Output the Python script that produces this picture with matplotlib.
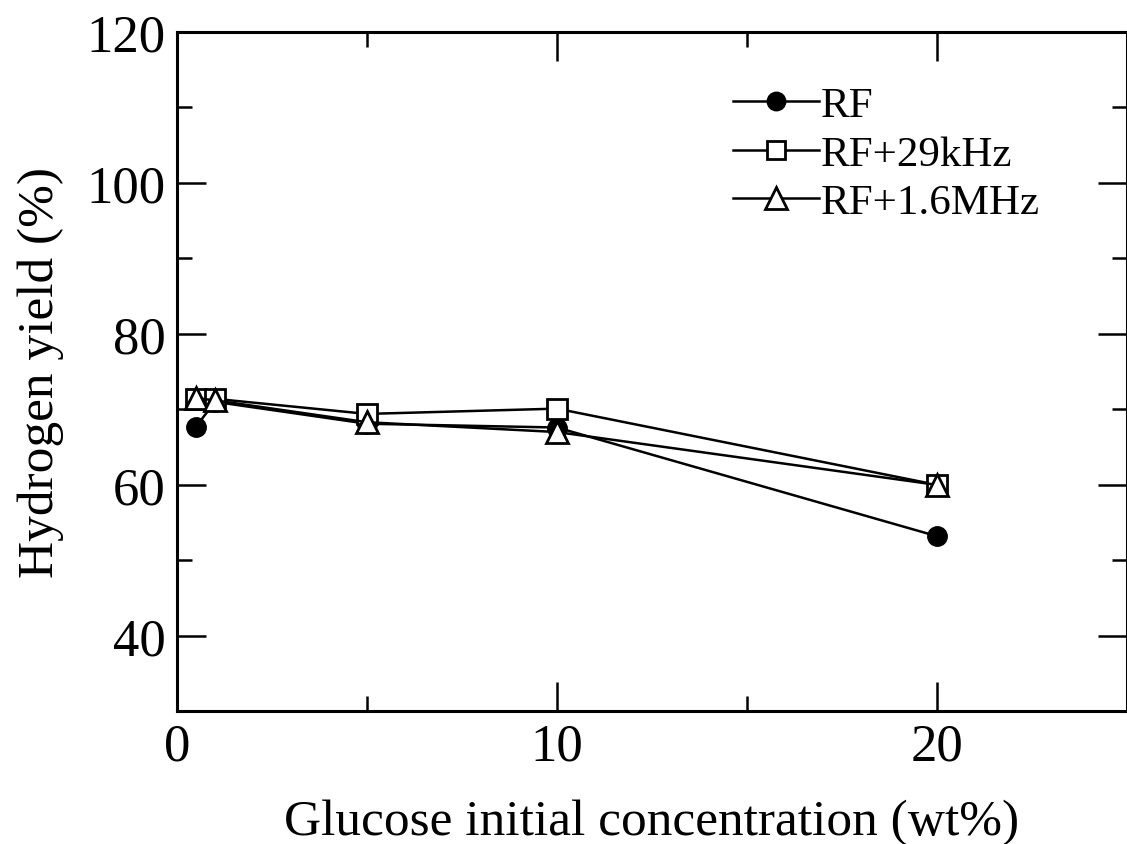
import matplotlib.pyplot as plt
from matplotlib.ticker import MultipleLocator

# glucose initial concentration (wt%)
conc = [0.5, 1, 5, 10, 20]

# hydrogen yield (%) for each condition
rf = [67.7, 71.0, 68.1, 67.6, 53.2]
rf_29k = [71.4, 71.4, 69.4, 70.1, 60.0]
rf_16m = [71.5, 71.2, 68.3, 67.0, 60.0]

labels = ["RF", "RF+29kHz", "RF+1.6MHz"]

plt.rcParams['font.family'] = ['Liberation Serif', 'DejaVu Serif']

fig = plt.figure(figsize=(11.27, 8.45), dpi=100)
ax = fig.add_axes([0.157, 0.157, 0.843, 0.804])

ax.plot(conc, rf, color='black', lw=1.8, marker='o', ms=14,
        mfc='black', mec='black', label=labels[0], zorder=3)
ax.plot(conc, rf_29k, color='black', lw=1.8, marker='s', ms=14,
        mfc='white', mec='black', mew=2, label=labels[1], zorder=3)
ax.plot(conc, rf_16m, color='black', lw=1.8, marker='^', ms=16,
        mfc='white', mec='black', mew=2, label=labels[2], zorder=4)

ax.set_xlim(0, 25)
ax.set_ylim(30, 120)
ax.set_xticks([0, 10, 20])
ax.xaxis.set_minor_locator(MultipleLocator(5))
ax.set_yticks([40, 60, 80, 100, 120])
ax.yaxis.set_minor_locator(MultipleLocator(10))
ax.tick_params(which='both', direction='in', top=True, right=True,
               width=1.8, labelsize=38, pad=8)
ax.tick_params(which='major', length=21)
ax.tick_params(which='minor', length=11)
for sp in ax.spines.values():
    sp.set_linewidth(2.2)

ax.set_xlabel("Glucose initial concentration (wt%)", fontsize=37, labelpad=20)
ax.set_ylabel("Hydrogen yield (%)", fontsize=37, labelpad=16)

ax.legend(loc='upper left', bbox_to_anchor=(0.650, 0.897),
          bbox_transform=fig.transFigure, frameon=False, fontsize=31,
          handlelength=2.0, handletextpad=0.05, labelspacing=0.22,
          borderpad=0, borderaxespad=0, markerscale=0.95)

fig.savefig("out.png", dpi=100)
